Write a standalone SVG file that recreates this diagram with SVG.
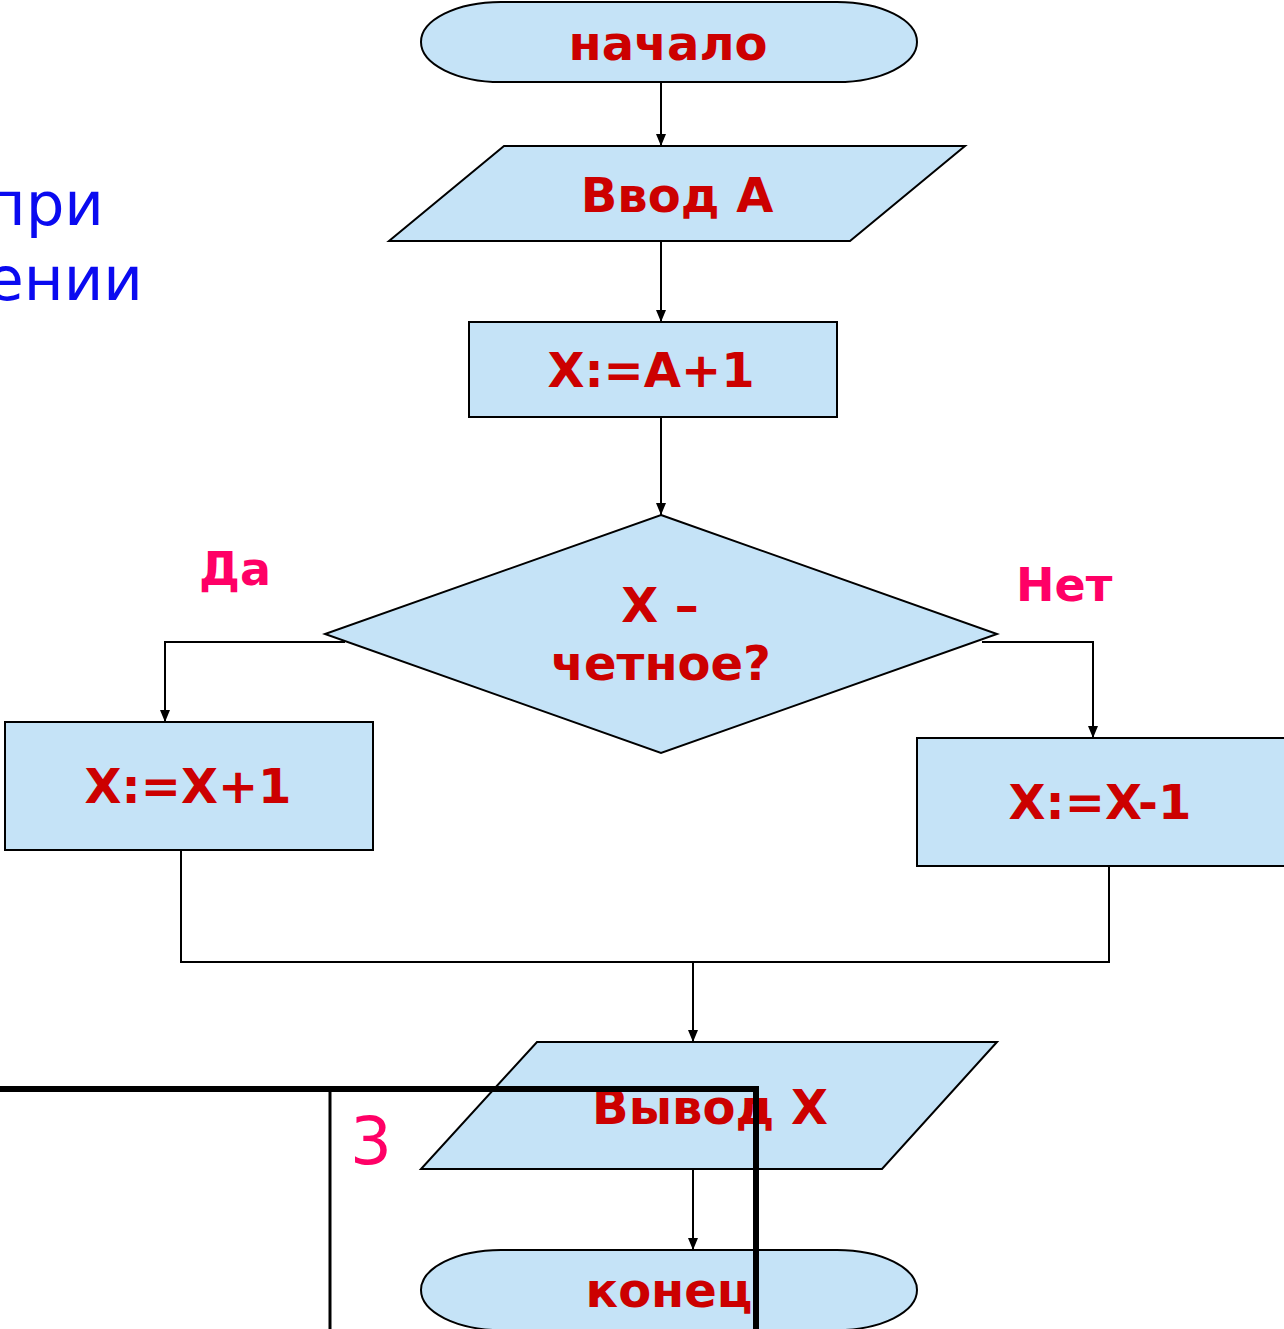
<svg xmlns="http://www.w3.org/2000/svg" width="1284" height="1329" viewBox="0 0 1284 1329">
<style>
.shape{fill:#C5E3F7;stroke:#000;stroke-width:2}
.lbl{font-family:"DejaVu Sans",Verdana,sans-serif;font-weight:bold;font-size:48px;fill:#CC0000;text-anchor:middle}
.br{font-family:"DejaVu Sans",Verdana,sans-serif;font-weight:bold;font-size:46px;fill:#FF0066}
.con{fill:none;stroke:#000;stroke-width:2}
.blue{font-family:"DejaVu Sans",Verdana,sans-serif;font-size:61px;fill:#0A0AF0;text-anchor:end}
.thick{stroke:#000;stroke-width:6}
</style>
<defs>
<marker id="ah" viewBox="0 0 12 10" refX="12" refY="5" markerWidth="12" markerHeight="10" markerUnits="userSpaceOnUse" orient="auto">
<path d="M0,0 L12,5 L0,10 Z" fill="#000"/>
</marker>
</defs>
<rect width="1284" height="1329" fill="#fff"/>
<g id="sidetext">
<text class="blue" x="104" y="225">при</text>
<text class="blue" x="143" y="300">ении</text>
</g>
<g id="connectors">
<line class="con" x1="661" y1="82" x2="661" y2="146" marker-end="url(#ah)"/>
<line class="con" x1="661" y1="241" x2="661" y2="322" marker-end="url(#ah)"/>
<line class="con" x1="661" y1="417" x2="661" y2="515" marker-end="url(#ah)"/>
<polyline class="con" points="345,642 165,642 165,722" marker-end="url(#ah)"/>
<polyline class="con" points="982,642 1093,642 1093,738" marker-end="url(#ah)"/>
<polyline class="con" points="181,850 181,962 1109,962 1109,866"/>
<line class="con" x1="693" y1="962" x2="693" y2="1042" marker-end="url(#ah)"/>
<line class="con" x1="693" y1="1169" x2="693" y2="1250" marker-end="url(#ah)"/>
</g>
<g id="start">
<rect class="shape" x="421" y="2" width="496" height="80" rx="80" ry="40"/>
<text class="lbl" x="668" y="60">начало</text>
</g>
<g id="input">
<polygon class="shape" points="504,146 965,146 850,241 389,241"/>
<text class="lbl" x="677" y="212">Ввод А</text>
</g>
<g id="assign">
<rect class="shape" x="469" y="322" width="368" height="95"/>
<text class="lbl" x="651" y="387">X:=A+1</text>
</g>
<g id="decision">
<polygon class="shape" points="661,515 997,634 661,753 325,634"/>
<text class="lbl" x="660" y="622">X –</text>
<text class="lbl" x="661" y="680">четное?</text>
</g>
<g id="labels">
<text class="br" x="199" y="585">Да</text>
<text class="br" x="1016" y="601">Нет</text>
</g>
<g id="yes">
<rect class="shape" x="5" y="722" width="368" height="128"/>
<text class="lbl" x="188" y="803">X:=X+1</text>
</g>
<g id="no">
<rect class="shape" x="917" y="738" width="380" height="128"/>
<text class="lbl" x="1100" y="819">X:=X-1</text>
</g>
<g id="output">
<polygon class="shape" points="537,1042 997,1042 882,1169 421,1169"/>
<text class="lbl" x="710" y="1124">Вывод X</text>
</g>
<g id="end">
<rect class="shape" x="421" y="1250" width="496" height="80" rx="80" ry="40"/>
<text class="lbl" x="669" y="1307">конец</text>
</g>
<g id="overlay">
<text x="350" y="1164" style="font-family:'DejaVu Sans',Verdana,sans-serif;font-size:66px;fill:#FF0066">3</text>
<line class="thick" x1="0" y1="1089" x2="759" y2="1089"/>
<line class="thick" x1="756" y1="1086" x2="756" y2="1329"/>
<line x1="330" y1="1090" x2="330" y2="1329" stroke="#000" stroke-width="3"/>
</g>
</svg>
